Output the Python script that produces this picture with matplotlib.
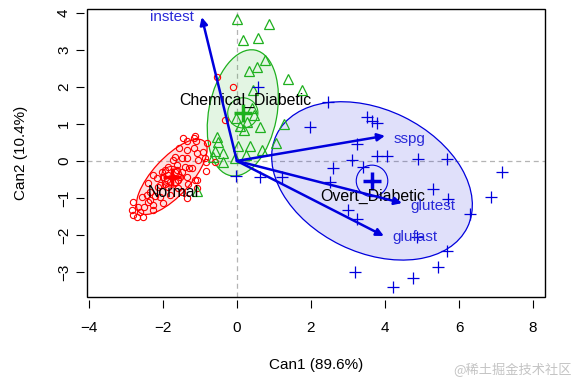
import numpy as np
import matplotlib
matplotlib.use("Agg")
import matplotlib.pyplot as plt
from matplotlib.patches import Ellipse, Circle, Rectangle

plt.rcParams['font.family'] = ['Liberation Sans', 'DejaVu Sans']

# canonical scores (Can1, Can2)
normal_x = [-1.46, -1.35, -1.16, -1.11, -1.57, -1.35, -1.16, -1.08, -1.05, -1.68, -1.49, -1.35,
            -1.86, -1.62, -1.41, -1.22, -2.03, -2.27, -2.16, -2.00, -1.86, -1.54, -1.35, -1.14,
            -1.32, -2.41, -2.14, -1.86, -1.59, -2.35, -2.43, -2.57, -2.08, -1.81, -2.41, -2.68,
            -2.27, -2.00, -2.81, -2.62, -2.81, -2.70, -2.54, -2.27, -2.84, -1.14, -0.81, -0.92,
            -0.84, -0.84, -1.08, -1.08, -1.35, -0.59, -0.32, -0.54, -0.11, -0.86, -1.76, -1.68,
            -1.81, -1.95, -1.59, -1.73, -2.08, -1.49, -2.35, -1.68, -1.89, -1.62, -1.95, -1.49,
            -2.20, -1.30, -2.50]
normal_y = [0.62, 0.54, 0.62, 0.54, 0.35, 0.30, 0.35, 0.22, 0.03, 0.11, 0.08, 0.08,
            -0.16, -0.11, -0.16, -0.19, -0.30, -0.38, -0.46, -0.43, -0.38, -0.43, -0.43, -0.51,
            -0.62, -0.59, -0.70, -0.70, -0.73, -0.84, -0.92, -0.97, -0.97, -0.92, -1.11, -1.24,
            -1.19, -1.14, -1.11, -1.38, -1.46, -1.51, -1.51, -1.32, -1.32, 0.68, 0.49, 0.24,
            -0.03, -0.27, -0.51, -0.73, -1.00, -0.03, 1.11, 2.27, 2.00, 0.08, -0.43, -0.30,
            -0.57, -0.24, -0.51, 0.03, -0.65, -0.84, -1.05, -0.57, -0.51, -0.24, -0.62, -0.30,
            -0.95, -0.20, -1.25]

chem_x = [0.00, 0.86, 0.16, 0.57, 0.76, 0.54, 0.32, 1.38, 1.76, 0.43, 1.27, 0.62, -0.03,
          0.27, 0.08, 0.41, -0.54, -0.51, 0.03, 0.35, 0.68, 1.05, -0.59, -0.38, -0.65, -0.38,
          0.24, -0.05, -1.08, 0.46, 0.19]
chem_y = [3.84, 3.70, 3.27, 3.32, 2.73, 2.54, 2.43, 2.22, 1.92, 1.92, 1.00, 0.92, 1.16,
          1.05, 0.95, 1.43, 0.65, 0.51, 0.41, 0.41, 0.30, 0.49, 0.27, 0.22, 0.11, -0.03,
          0.16, 0.08, -0.81, 1.24, 0.84]

overt_x = [2.46, 1.97, 3.51, 3.65, 3.78, 3.24, 3.11, 3.78, 4.05, 4.89, 5.68, 2.59, 3.41,
           7.16, 2.51, 0.62, 1.22, 5.30, 5.70, 6.86, 6.30, 3.00, 3.24, 4.86, 5.68, 5.43,
           4.76, 4.22, 3.19, 0.57, -0.03]
overt_y = [1.59, 0.92, 1.19, 1.08, 1.03, 0.46, 0.03, 0.14, 0.14, 0.05, 0.05, -0.19, -0.16,
           -0.30, -0.57, -0.43, -0.43, -0.76, -1.03, -0.97, -1.43, -1.32, -1.57, -2.05, -2.43,
           -2.86, -3.16, -3.41, -3.00, 2.00, -0.41]

groups = ['Normal', 'Chemical_Diabetic', 'Overt_Diabetic']
group_n = [76, 36, 33]
mean_x = [-1.76, 0.16, 3.65]
mean_y = [-0.43, 1.30, -0.54]
# 68% data ellipses: full axis lengths and tilt (degrees)
ell_w = [2.60, 3.46, 5.73]
ell_h = [1.02, 1.84, 3.86]
ell_angle = [47.5, 79, -26]
label_x = [-1.72, 0.23, 3.68]
label_y = [-0.86, 1.65, -0.97]

variables = ['instest', 'sspg', 'glutest', 'glufast']
vec_x = [-0.95, 4.00, 4.46, 3.97]
vec_y = [3.89, 0.68, -1.14, -2.03]

colors = ['red', '#1fb01f', '#0000dd']
markers = ['o', '^', '+']
msizes = [4.5, 7, 9]

fig = plt.figure(figsize=(5.76, 3.84), dpi=100)
ax = fig.add_axes([0.151, 0.2266, 0.795, 0.75])

ax.axhline(0, color='#b4b4b4', ls=(0, (4, 3)), lw=0.9, zorder=0)
ax.axvline(0, color='#b4b4b4', ls=(0, (4, 3)), lw=0.9, zorder=0)

pts = [(normal_x, normal_y), (chem_x, chem_y), (overt_x, overt_y)]
c95 = np.sqrt(-2 * np.log(1 - 0.95))
for i, (gx, gy) in enumerate(pts):
    ctr = (mean_x[i], mean_y[i])
    ax.add_patch(Ellipse(ctr, ell_w[i], ell_h[i], angle=ell_angle[i],
                         facecolor=colors[i], alpha=0.12, edgecolor='none'))
    ax.add_patch(Ellipse(ctr, ell_w[i], ell_h[i], angle=ell_angle[i],
                         facecolor='none', edgecolor=colors[i], lw=0.9))
    mew = 0.8 if markers[i] == 'o' else 0.9
    ax.plot(gx, gy, markers[i], mfc='none', mec=colors[i], ms=msizes[i], mew=mew, ls='none')
    # centroid and its confidence circle
    ax.plot(mean_x[i], mean_y[i], '+', color=colors[i], ms=13, mew=2.5)
    ax.add_patch(Circle(ctr, c95 / np.sqrt(group_n[i]),
                        facecolor='none', edgecolor=colors[i], lw=0.8))
    ax.text(label_x[i], label_y[i], groups[i], ha='center', va='center', fontsize=11.4, color='black')

offsets = [(-6, 0), (6, -2), (6, -2), (6, -1)]
for j, v in enumerate(variables):
    ax.annotate('', xy=(vec_x[j], vec_y[j]), xytext=(0, 0),
                arrowprops=dict(arrowstyle='-|>', color='#0000dd', lw=1.8,
                                mutation_scale=11, shrinkA=0, shrinkB=0))
    ax.annotate(v, xy=(vec_x[j], vec_y[j]), xytext=offsets[j], textcoords='offset points',
                ha='right' if offsets[j][0] < 0 else 'left', va='center',
                fontsize=11, color='#2a2ad8')

ax.set_xlim(-4.05, 8.32)
ax.set_ylim(-3.68, 4.11)
ax.set_xticks([-4, -2, 0, 2, 4, 6, 8])
ax.set_yticks([-3, -2, -1, 0, 1, 2, 3, 4])
for s in ax.spines.values():
    s.set_visible(False)
ax.spines['left'].set_position(('outward', 2))
ax.spines['bottom'].set_position(('outward', 2))
ax.add_patch(Rectangle((0, 0), 1, 1, transform=ax.transAxes, fill=False, lw=1.0,
                       edgecolor='black', clip_on=False, zorder=5))
ax.tick_params(direction='out', length=6, width=0.8, labelsize=11)
ax.tick_params(axis='x', pad=9)
ax.tick_params(axis='y', labelrotation=90, pad=3.5)
for lab in ax.get_yticklabels():
    lab.set_va('center')

ax.set_xlabel('Can1 (89.6%)', fontsize=11, labelpad=17)
ax.set_ylabel('Can2 (10.4%)', fontsize=11, labelpad=21)

fig.text(0.992, 0.018, '@稀土掘金技术社区', ha='right', va='bottom', fontsize=9.5,
         color='#c4c4c4', family=['Noto Sans CJK SC', 'DejaVu Sans'])

fig.savefig('out.png', dpi=100)
